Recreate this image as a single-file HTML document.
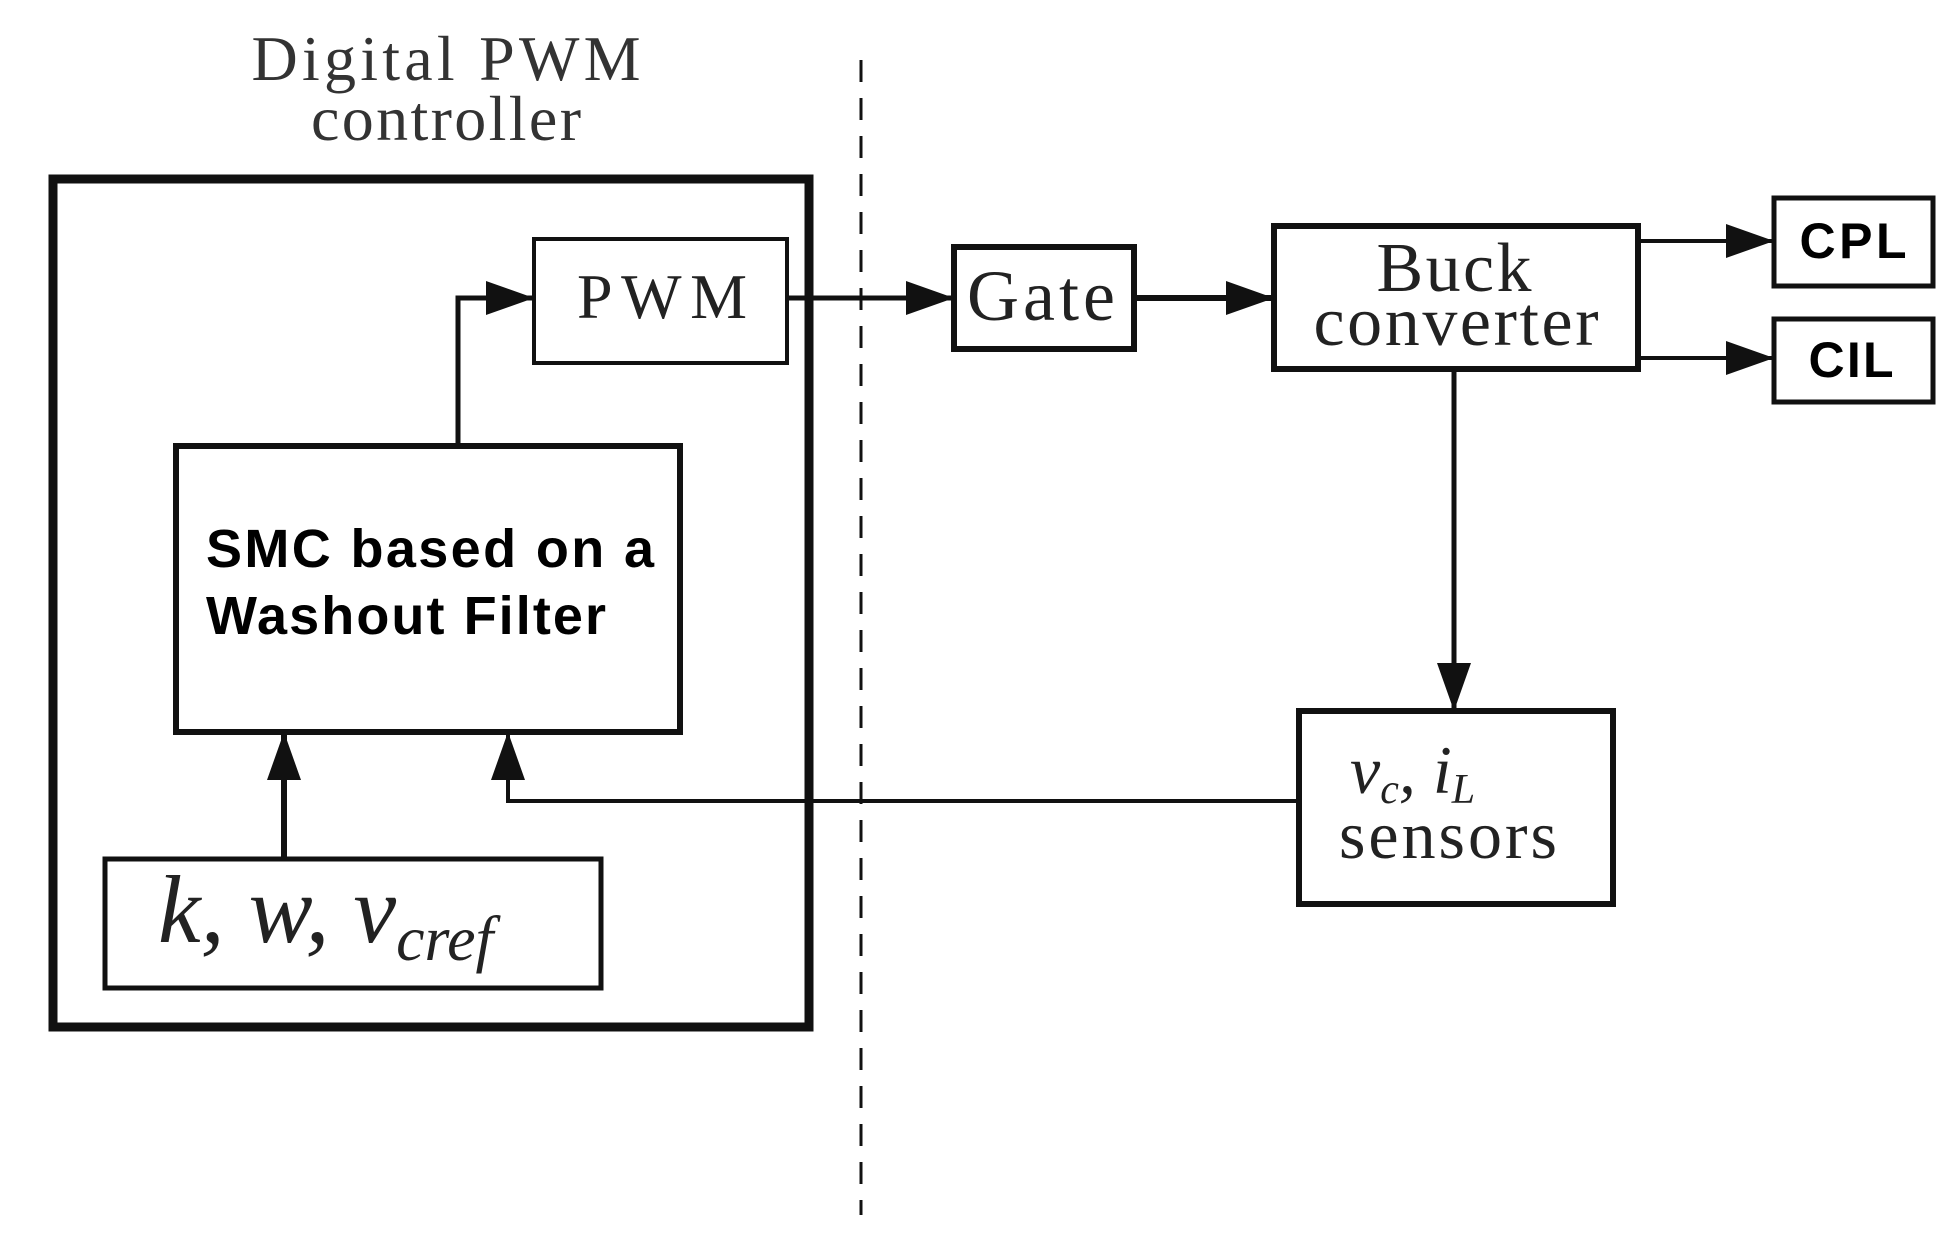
<!DOCTYPE html>
<html><head><meta charset="utf-8"><style>html,body{margin:0;padding:0;background:#fff}svg{display:block}</style></head>
<body>
<svg width="1946" height="1240" viewBox="0 0 1946 1240" xmlns="http://www.w3.org/2000/svg">
<defs>
<marker id="ah" markerWidth="48" markerHeight="34" refX="46" refY="17" orient="auto" markerUnits="userSpaceOnUse">
<path d="M0,0 L48,17 L0,34 Z" fill="#111"/>
</marker>
</defs>
<g fill="none" stroke="#111">
<line x1="861" y1="60" x2="861" y2="1215" stroke-width="3" stroke-dasharray="22,16"/>
<rect x="53" y="179" width="756" height="848" stroke-width="9"/>
<rect x="534" y="239" width="253" height="124" stroke-width="4"/>
<rect x="176" y="446" width="504" height="286" stroke-width="6"/>
<rect x="105" y="859" width="496" height="129" stroke-width="5"/>
<rect x="954" y="247" width="180" height="102" stroke-width="6"/>
<rect x="1274" y="226" width="364" height="143" stroke-width="6"/>
<rect x="1774" y="198" width="159" height="88" stroke-width="5"/>
<rect x="1774" y="319" width="159" height="83" stroke-width="5"/>
<rect x="1299" y="711" width="314" height="193" stroke-width="6"/>
<polyline points="458,446 458,298 532,298" stroke-width="5" marker-end="url(#ah)"/>
<line x1="787" y1="298" x2="952" y2="298" stroke-width="5" marker-end="url(#ah)"/>
<line x1="1134" y1="298" x2="1272" y2="298" stroke-width="6" marker-end="url(#ah)"/>
<line x1="1638" y1="241" x2="1772" y2="241" stroke-width="4" marker-end="url(#ah)"/>
<line x1="1638" y1="358" x2="1772" y2="358" stroke-width="4" marker-end="url(#ah)"/>
<line x1="1454" y1="369" x2="1454" y2="709" stroke-width="5" marker-end="url(#ah)"/>
<line x1="284" y1="859" x2="284" y2="734" stroke-width="6" marker-end="url(#ah)"/>
<polyline points="1299,801 508,801 508,734" stroke-width="4" marker-end="url(#ah)"/>
</g>
<g font-family="'Liberation Serif', serif" fill="#222">
<text x="446" y="80" font-size="64" text-anchor="middle" textLength="389" fill="#333">Digital PWM</text>
<text x="446" y="140" font-size="64" text-anchor="middle" textLength="270" fill="#333">controller</text>
<text x="662" y="318" font-size="64" text-anchor="middle" textLength="170">PWM</text>
<text x="1041" y="320" font-size="72" text-anchor="middle" textLength="148">Gate</text>
<text x="1454" y="291" font-size="70" text-anchor="middle" textLength="155">Buck</text>
<text x="1456" y="345" font-size="70" text-anchor="middle" textLength="285">converter</text>
<text x="1350" y="793" font-size="68" font-style="italic">v<tspan font-size="42" dy="10">c</tspan><tspan dy="-10">, i</tspan><tspan font-size="42" dy="10">L</tspan></text>
<text x="1448" y="858" font-size="68" text-anchor="middle" textLength="218">sensors</text>
<text x="158" y="942" font-size="96" font-style="italic">k, w, v<tspan font-size="64" dy="18">cref</tspan></text>
</g>
<g font-family="'Liberation Sans', sans-serif" font-weight="bold" fill="#000">
<text x="206" y="567" font-size="54" textLength="448">SMC based on a</text>
<text x="206" y="634" font-size="54" textLength="400">Washout Filter</text>
<text x="1853" y="258" font-size="50" text-anchor="middle" textLength="107">CPL</text>
<text x="1851" y="377" font-size="50" text-anchor="middle" textLength="85">CIL</text>
</g>
</svg>
</body></html>
